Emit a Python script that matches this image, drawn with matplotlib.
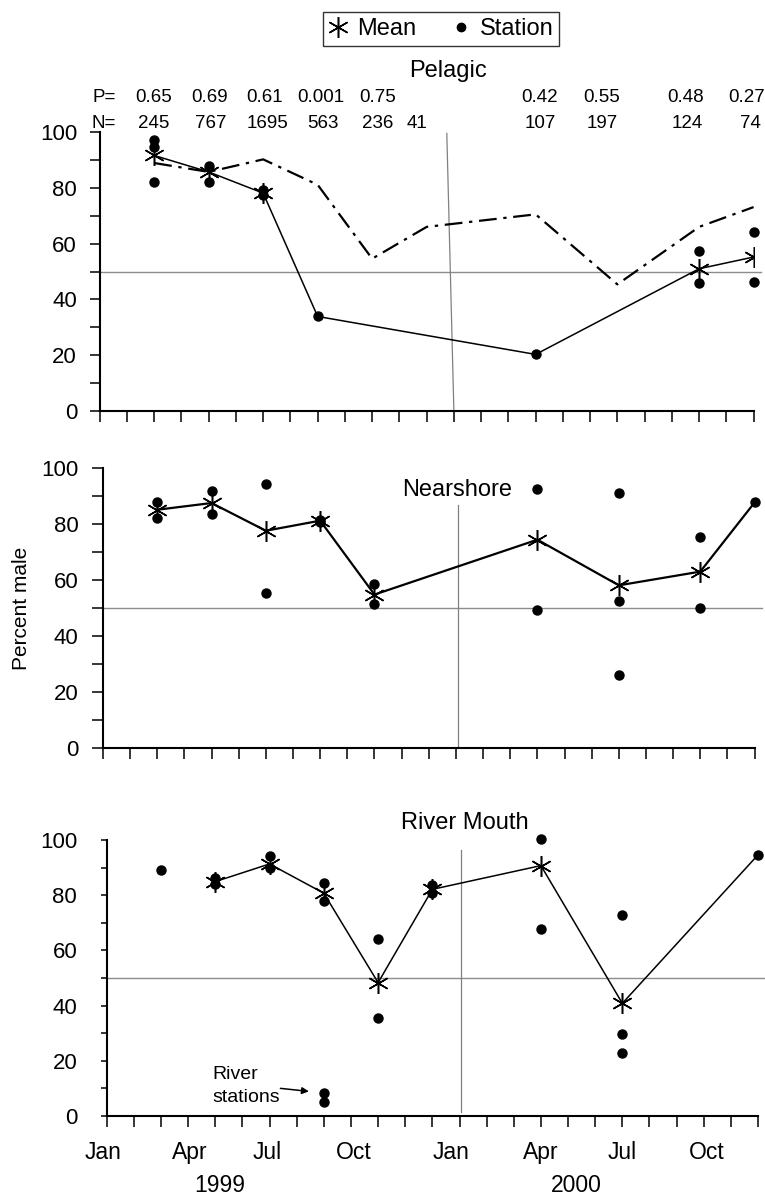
import matplotlib
matplotlib.use("Agg")
import matplotlib.pyplot as plt
from matplotlib.lines import Line2D

plt.rcParams['font.family'] = ['Liberation Sans', 'DejaVu Sans']

# x axis: sampling period index, Jan 1999 = 0
month_labels = ['Jan', 'Apr', 'Jul', 'Oct', 'Jan', 'Apr', 'Jul', 'Oct']
month_label_x = [-0.15, 3.05, 5.9, 9.1, 12.7, 16, 19, 22.1]
year_labels = ['1999', '2000']
year_label_x = [4.15, 17.3]

# Pelagic
pel_months = [2, 4, 6, 8, 10, 12, 16, 19, 22, 24]
pel_expected = [88.9, 85.7, 90.2, 81.1, 54.6, 66.0, 70.5, 45.4, 66.0, 73.1]
pel_mean_months = [2, 4, 6, 8, 16, 22, 24]
pel_mean = [91.6, 85.7, 78.1, 33.9, 20.3, 51.0, 55.2]
pel_stations = {2: [97.0, 94.5, 82.2], 4: [87.7, 82.2], 6: [79.3, 77.3],
                8: [33.9], 16: [20.3], 22: [57.3, 45.9], 24: [64.3, 46.2]}
p_values = ['0.65', '0.69', '0.61', '0.001', '0.75', '', '0.42', '0.55', '0.48', '0.27']
n_values = ['245', '767', '1695', '563', '236', '41', '107', '197', '124', '74']
p_label_x = [1.97, 4.02, 6.06, 8.12, 10.2, 11.64, 16.16, 18.44, 21.5, 23.75]
n_label_x = [2.0, 4.06, 6.15, 8.18, 10.2, 11.64, 16.18, 18.44, 21.58, 23.87]

# Nearshore
near_mean_months = [2, 4, 6, 8, 10, 16, 19, 22, 24]
near_mean = [85.1, 87.5, 77.6, 81.2, 54.8, 74.4, 58.1, 63.0, 87.7]
near_stations = {2: [87.7, 82.1], 4: [91.7, 83.5], 6: [94.3, 55.4],
                 8: [81.6, 80.6], 10: [58.7, 51.5], 16: [92.6, 49.4],
                 19: [91.1, 52.6, 26.1], 22: [75.4, 49.9], 24: [87.7]}

# River mouth
river_mean_months = [4, 6, 8, 10, 12, 16, 19, 24]
river_mean = [84.9, 91.3, 80.7, 48.3, 82.1, 90.7, 40.8, 94.6]
river_stations = {2: [89.1], 4: [86.1, 84.1], 6: [94.0, 89.7], 8: [84.3, 77.7],
                  10: [64.1, 35.4], 12: [83.7, 80.7], 16: [100.4, 67.9],
                  19: [72.8, 29.6, 22.9], 24: [94.6]}
river_only_month = 8
river_only = [8.5, 5.0]

star = (6, 2, 0)
fig = plt.figure(figsize=(7.65, 11.97), dpi=100)

ax_top = fig.add_axes([0.1303, 0.6566, 0.8548, 0.2331])
ax_mid = fig.add_axes([0.1346, 0.3751, 0.8518, 0.2339])
ax_bot = fig.add_axes([0.1395, 0.0677, 0.8514, 0.2306])


def style(ax, ylen, ypad):
    ax.set_xlim(0, 24)
    ax.set_ylim(0, 100)
    for s in ['top', 'right']:
        ax.spines[s].set_visible(False)
    for s in ['left', 'bottom']:
        ax.spines[s].set_linewidth(1.5)
    ax.set_xticks(range(25))
    ax.set_xticklabels([])
    ax.set_yticks(range(0, 101, 20))
    ax.set_yticks(range(10, 100, 20), minor=True)
    ax.tick_params(axis='y', which='both', direction='out', length=ylen, width=1.1,
                   labelsize=16, pad=ypad)
    ax.tick_params(axis='x', which='both', direction='out', length=7.7, width=1.1)
    ax.axhline(50, xmin=0, xmax=1.012, color='0.55', lw=1, clip_on=False, zorder=1)


def plot_panel(ax, mean_x, mean_y, stations, lw):
    ax.plot(mean_x, mean_y, color='k', lw=lw, zorder=3)
    mx = [m for m, v in zip(mean_x, mean_y) if len(stations.get(m, [])) > 1]
    my = [v for m, v in zip(mean_x, mean_y) if len(stations.get(m, [])) > 1]
    ax.plot(mx, my, ls='none', marker=star, ms=15, mew=1.1, color='k', zorder=4)
    sx = [m for m, vals in stations.items() for _ in vals]
    sy = [v for vals in stations.values() for v in vals]
    ax.plot(sx, sy, ls='none', marker='o', ms=6.5, color='k', zorder=5, clip_on=False)


style(ax_top, 7.2, 9.1)
style(ax_mid, 7.9, 9.8)
style(ax_bot, 4.3, 17)

# Pelagic
ax_top.plot(pel_months, pel_expected, color='k', lw=1.6,
            ls=(0, (8, 3, 1.5, 3)), zorder=2)
plot_panel(ax_top, pel_mean_months, pel_mean, pel_stations, 1.1)
ax_top.plot([13.0, 12.74], [0, 99.5], color='0.5', lw=0.9, zorder=1)
ax_top.text(12.8, 121.9, 'Pelagic', ha='center', va='center', fontsize=17)
ax_top.text(0.16, 112.5, 'P=', ha='center', va='center', fontsize=13.5)
ax_top.text(0.16, 103.2, 'N=', ha='center', va='center', fontsize=13.5)
for x, t in zip(p_label_x, p_values):
    ax_top.text(x, 112.5, t, ha='center', va='center', fontsize=13.5)
for x, t in zip(n_label_x, n_values):
    ax_top.text(x, 103.2, t, ha='center', va='center', fontsize=13.5)

# Nearshore
plot_panel(ax_mid, near_mean_months, near_mean, near_stations, 1.6)
ax_mid.plot([13.06, 13.06], [0, 86.9], color='0.5', lw=0.9, zorder=1)
ax_mid.text(13.06, 92.3, 'Nearshore', ha='center', va='center', fontsize=17)

# River mouth
plot_panel(ax_bot, river_mean_months, river_mean, river_stations, 1.1)
ax_bot.plot([river_only_month] * len(river_only), river_only, ls='none',
            marker='o', ms=6.5, color='k', zorder=5)
ax_bot.plot([13.06, 13.06], [1.6, 96.4], color='0.5', lw=0.9, zorder=1)
ax_bot.text(13.18, 106, 'River Mouth', ha='center', va='center', fontsize=17,
            clip_on=False)
ax_bot.text(3.9, 15.2, 'River', ha='left', va='center', fontsize=14)
ax_bot.text(3.9, 6.8, 'stations', ha='left', va='center', fontsize=14)
ax_bot.annotate('', xy=(7.45, 8.9), xytext=(6.4, 10.0),
                arrowprops=dict(arrowstyle='-|>', color='k', lw=1.1,
                                mutation_scale=10, shrinkA=0, shrinkB=0))

for x, t in zip(month_label_x, month_labels):
    ax_bot.annotate(t, xy=(x, 0), xycoords=('data', 'axes fraction'),
                    xytext=(0, -26.6), textcoords='offset points',
                    ha='center', va='center', fontsize=16.5)
for x, t in zip(year_label_x, year_labels):
    ax_bot.annotate(t, xy=(x, 0), xycoords=('data', 'axes fraction'),
                    xytext=(0, -50.4), textcoords='offset points',
                    ha='center', va='center', fontsize=16.5)

fig.text(22 / 765, 1 - 608 / 1197, 'Percent male', rotation=90,
         ha='center', va='center', fontsize=15)

handles = [Line2D([], [], ls='none', marker=star, ms=15, mew=1.1, color='k'),
           Line2D([], [], ls='none', marker='o', ms=6, color='k')]
leg = fig.legend(handles, ['Mean', 'Station'], loc='center', ncol=2,
                 bbox_to_anchor=(441 / 765, 1 - 29 / 1197), fontsize=17,
                 frameon=True, fancybox=False, edgecolor='k',
                 handlelength=0.8, handletextpad=0.4, columnspacing=1.5,
                 borderpad=0.25, borderaxespad=0)
leg.get_frame().set_linewidth(1.0)

fig.savefig('out.png', dpi=100)
